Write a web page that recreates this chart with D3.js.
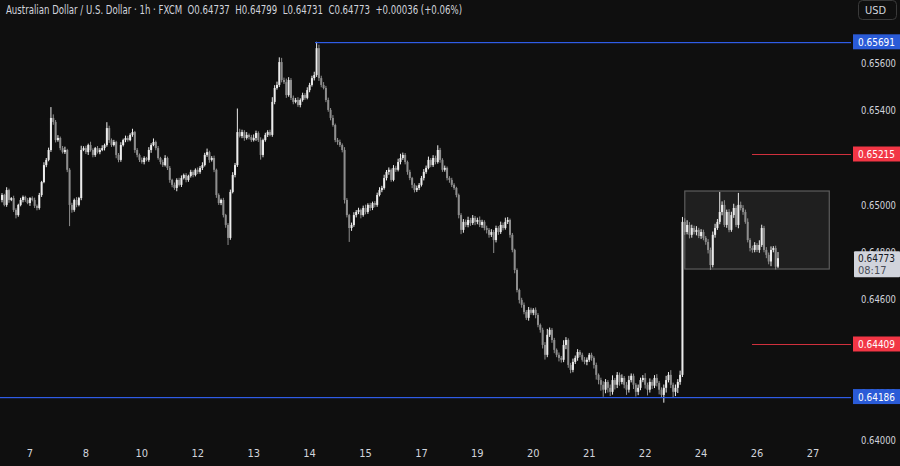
<!DOCTYPE html>
<html><head><meta charset="utf-8">
<script src="https://cdn.jsdelivr.net/npm/d3@7"></script>
<style>html,body{margin:0;padding:0;background:#0f0f0f;}svg{display:block;}</style>
</head><body>
<script>
// ---- DATA ----
const title = "Australian Dollar / U.S. Dollar · 1h · FXCM  O0.64737  H0.64799  L0.64731  C0.64773  +0.00036 (+0.06%)";
const firstOpen = 0.65020;
const closes = [
0.65041,0.64999,0.65062,0.65020,0.65028,0.64978,0.64956,0.64999,0.65020,0.65033,
0.65020,0.65007,0.65028,0.65020,0.64995,0.64986,0.65041,0.65096,0.65168,0.65190,
0.65232,0.65368,0.65351,0.65274,0.65283,0.65240,0.65223,0.65232,0.65148,0.64999,
0.64978,0.65020,0.64999,0.65028,0.65232,0.65240,0.65223,0.65253,0.65232,0.65211,
0.65240,0.65223,0.65232,0.65240,0.65253,0.65325,0.65274,0.65253,0.65266,0.65211,
0.65190,0.65253,0.65274,0.65283,0.65274,0.65296,0.65308,0.65232,0.65211,0.65190,
0.65181,0.65198,0.65190,0.65232,0.65253,0.65266,0.65240,0.65198,0.65181,0.65168,
0.65198,0.65156,0.65105,0.65084,0.65071,0.65105,0.65084,0.65113,0.65126,0.65105,
0.65122,0.65139,0.65126,0.65148,0.65139,0.65156,
0.65168,0.65211,0.65223,0.65190,
0.65198,0.65148,0.65041,0.65007,0.65020,0.64956,0.64914,0.64859,0.65054,0.65126,
0.65168,0.65308,0.65291,0.65308,0.65283,0.65296,0.65287,0.65274,0.65283,0.65304,
0.65274,0.65211,0.65274,0.65296,0.65308,0.65296,0.65436,0.65495,0.65508,0.65605,
0.65529,0.65520,0.65465,0.65529,0.65453,0.65436,0.65444,0.65423,0.65444,0.65465,
0.65453,0.65486,0.65508,0.65537,0.65550,0.65664,0.65537,0.65508,0.65495,0.65444,
0.65402,0.65368,0.65338,0.65274,0.65266,0.65253,0.65232,0.65020,0.64956,0.64901,
0.64914,0.64956,0.64969,0.64978,0.64956,0.64986,0.64969,0.64999,0.64986,0.65007,
0.64999,0.65041,0.65062,0.65071,0.65113,0.65139,0.65148,0.65105,0.65156,0.65148,
0.65181,0.65198,
0.65211,0.65181,0.65139,0.65113,0.65084,0.65062,0.65071,0.65084,
0.65113,0.65139,0.65156,0.65190,0.65168,0.65198,0.65181,0.65232,0.65190,0.65148,
0.65156,0.65113,0.65105,0.65084,0.65071,0.65041,0.64956,0.64893,0.64927,0.64914,
0.64935,0.64922,0.64944,0.64927,0.64935,0.64914,0.64927,0.64901,0.64893,0.64872,
0.64884,0.64850,0.64901,0.64884,0.64914,0.64901,0.64927,0.64935,0.64872,0.64808,
0.64723,0.64638,0.64596,0.64575,0.64545,0.64520,0.64554,0.64541,0.64554,0.64532,
0.64490,0.64469,0.64405,0.64363,0.64448,0.64469,0.64426,0.64384,0.64363,0.64350,
0.64342,0.64405,0.64426,0.64320,0.64299,0.64333,0.64350,0.64375,0.64363,0.64342,
0.64333,0.64342,0.64363,0.64350,0.64320,0.64278,0.64256,
0.64236,0.64215,0.64248,0.64223,0.64206,0.64256,0.64236,0.64278,0.64248,0.64265,
0.64236,0.64215,0.64256,0.64274,0.64236,0.64206,0.64223,0.64256,0.64265,0.64236,
0.64215,0.64248,0.64232,0.64265,0.64244,0.64215,0.64193,0.64223,0.64256,0.64278,
0.64236,0.64206,0.64223,0.64248,0.64278,
0.64927,0.64884,0.64914,0.64872,0.64901,0.64884,0.64893,0.64867,0.64884,0.64859,
0.64842,0.64808,0.64744,0.64872,0.64901,0.64927,0.64969,0.64999,0.64914,0.64969,
0.64893,0.64956,0.64986,0.64914,0.64999,0.64986,0.64969,0.64927,0.64850,0.64816,
0.64808,0.64829,0.64808,0.64829,0.64901,0.64808,0.64787,0.64759,0.64808,0.64816,0.64737,0.64773
];
// upper / lower wick lengths in points (0.00001)
const upWick = [
8,5,12,6,4,10,7,5,9,6, 5,8,4,7,10,6,9,5,12,8, 10,46,15,8,12,6,9,14,5,7, 9,6,12,5,18,8,10,6,14,7,
5,9,8,12,6,25,10,7,9,5, 8,12,6,10,9,7,14,5,8,6, 10,7,5,12,8,15,6,9,5,10, 12,6,8,5,10,7,9,11,6,8,
5,9,7,6,10,8, 12,9,15,6,
8,10,5,7,6,9,5,8,10,12, 9,100,14,10,8,12,6,9,15,10, 7,12,6,9,8,10,20,12,14,20, 18,10,15,12,8,10,9,12,7,10,
8,12,9,10,14,27,15,10,12,9, 10,8,12,6,9,10,7,12,8,5, 10,12,8,9,6,10,14,7,9,6, 8,10,12,9,14,8,10,6,12,9,
14,18,
10,8,6,9,5,7,10,8, 9,12,10,14,8,12,10,20,9,7, 10,6,8,9,7,5,6,8,12,10, 14,9,12,8,10,15,9,7,10,8,
12,9,10,8,14,10,18,12,6,8, 5,7,6,9,10,8,12,9,7,10, 8,6,9,12,25,10,8,9,6,10, 8,20,12,7,9,14,10,12,8,9,
12,10,8,9,7,10,6,
10,15,12,8,14,20,9,12,10,15, 8,12,18,10,9,7,14,10,12,20, 9,15,10,12,16,8,10,14,18,12, 20,9,14,12,18,
21,15,20,12,14,10,16,9,12,10, 8,12,10,14,18,12,85,15,20,10, 12,14,18,10,51,14,12,10,15,8, 10,12,8,20,14,9,12,10,15,8,10,26
];
const downWick = [
10,6,8,12,5,9,14,7,6,10, 8,5,12,6,9,10,7,8,5,9, 6,8,12,10,7,9,6,8,10,90, 12,8,10,6,9,5,8,12,7,10,
8,6,9,5,10,7,12,8,6,14, 10,8,6,9,7,5,8,12,10,9, 7,10,6,8,12,5,9,7,10,8, 6,9,12,10,8,14,7,9,6,10,
8,7,10,6,9,8, 9,6,8,12,
7,10,12,8,9,10,12,30,8,6, 10,8,6,9,12,7,10,8,6,12, 8,20,10,7,9,6,8,10,7,9, 10,8,12,7,9,10,6,8,10,7,
8,6,9,7,10,8,12,10,6,9, 8,10,7,9,12,8,10,15,10,59, 12,8,10,9,14,7,10,8,12,9, 10,8,6,9,7,10,12,8,6,9,
7,10,
8,10,12,9,14,10,8,9, 7,10,8,6,9,8,10,7,12,9, 8,10,12,9,8,10,14,18,12,9, 10,12,8,14,10,9,12,10,15,12,
9,55,10,12,8,10,7,9,12,10, 14,10,15,12,10,9,12,8,10,14, 10,12,15,20,10,9,12,14,10,15, 12,10,18,12,14,10,9,12,10,8,
10,14,9,12,15,20,18,
25,30,15,20,18,12,20,14,16,10, 15,22,12,10,18,20,14,10,9,16, 24,12,14,10,15,20,12,33,20,10, 14,25,18,22,12,
9,12,10,15,12,10,14,9,12,10, 12,15,21,10,12,8,10,14,9,12, 10,8,12,9,14,10,12,8,10,14, 12,10,9,12,8,10,14,12,20,10,12,6
];
const dayTickIdx = [12,36,60,84,108,132,156,180,204,228,252,276,300,324,348];
const dayTickLabels = ["7","8","10","12","13","14","15","17","19","20","21","22","24","26","27"];
const priceTicks = [0.64000,0.64200,0.64600,0.64800,0.65000,0.65400,0.65600];
const blueLevels = [{price:0.65691, from:135},{price:0.64186, from:0}];
const redLevels = [{price:0.65215, from:322},{price:0.64409, from:322}];
const rangeBox = {from:293, to:355, top:0.65058, bottom:0.64727};
const lastPrice = 0.64773, countdown = "08:17";

// ---- CHART ----
const W=900,H=466;
const svg=d3.select("body").append("svg").attr("width",W).attr("height",H);
svg.append("rect").attr("width",W).attr("height",H).attr("fill","#0f0f0f");
const font="'DejaVu Sans Condensed','Liberation Sans Narrow',Roboto,sans-serif";
const x=d3.scaleLinear().domain([0,closes.length-1]).range([2,778]);
const y=d3.scaleLinear().domain([0.64000,0.65691]).range([440.4,41.8]);
const plotRight=851;

// range box
svg.append("rect").attr("x",x(rangeBox.from)).attr("y",y(rangeBox.top))
  .attr("width",x(rangeBox.to)-x(rangeBox.from)).attr("height",y(rangeBox.bottom)-y(rangeBox.top))
  .attr("fill","rgba(255,255,255,0.07)").attr("stroke","#5c5c5c").attr("stroke-width",1.2);

// candles
const bars=closes.map((c,i)=>{
  const o=i===0?firstOpen:closes[i-1];
  const hi=Math.max(o,c)+upWick[i]/1e5, lo=Math.min(o,c)-downWick[i]/1e5;
  return {i,o,c,hi,lo};
});
const g=svg.append("g");
bars.forEach(b=>{
  const col=b.c>=b.o?"#ececec":"#8e8e8e";
  g.append("line").attr("x1",x(b.i)).attr("x2",x(b.i)).attr("y1",y(b.hi)).attr("y2",y(b.lo))
    .attr("stroke",col).attr("stroke-width",1);
  const top=y(Math.max(b.o,b.c)), bot=y(Math.min(b.o,b.c));
  g.append("rect").attr("x",x(b.i)-1).attr("width",2).attr("y",top).attr("height",Math.max(1,bot-top)).attr("fill",col);
});

// level lines (drawn above candles, as in the reference), as 1px filled strips
blueLevels.forEach(l=>{
  const x0=Math.max(0,Math.round(x(l.from))-2);
  svg.append("rect").attr("x",x0).attr("width",plotRight-x0)
    .attr("y",Math.round(y(l.price))).attr("height",1.2).attr("fill","#2f5ce6");
});
redLevels.forEach(l=>{
  const x0=Math.round(x(l.from));
  svg.append("rect").attr("x",x0).attr("width",plotRight-x0)
    .attr("y",Math.round(y(l.price))).attr("height",1).attr("fill","#d0303d");
});

// header
svg.append("text").attr("x",6).attr("y",14).attr("fill","#d1d4dc").attr("font-family",font)
  .style("white-space","pre").attr("font-size",12).attr("textLength",456).attr("lengthAdjust","spacingAndGlyphs").text(title);

// USD button
svg.append("rect").attr("x",858.5).attr("y",0.5).attr("width",38).attr("height",19).attr("rx",4)
  .attr("fill","none").attr("stroke","#3a3a3a");
svg.append("text").attr("x",865).attr("y",14).attr("fill","#d1d4dc").attr("font-family",font).attr("font-size",11).text("USD");

// y axis ticks
priceTicks.forEach(p=>svg.append("text").attr("x",861).attr("y",y(p)+4).attr("fill","#d1d4dc")
  .attr("font-family",font).attr("font-size",11).attr("textLength",35).attr("lengthAdjust","spacingAndGlyphs").text(p.toFixed(5)));

// x axis
dayTickIdx.forEach((d,k)=>svg.append("text").attr("x",x(d)).attr("y",457).attr("text-anchor","middle")
  .attr("fill","#d1d4dc").attr("font-family",font).attr("font-size",11).text(dayTickLabels[k]));

// price labels
function priceLabel(p,bg,fg){
  const cy=y(p);
  svg.append("rect").attr("x",853).attr("y",cy-7.5).attr("width",47).attr("height",15).attr("fill",bg);
  svg.append("text").attr("x",858).attr("y",cy+4).attr("fill",fg).attr("font-family",font).attr("font-size",11)
    .attr("textLength",37).attr("lengthAdjust","spacingAndGlyphs").text(p.toFixed(5));
}
blueLevels.forEach(l=>priceLabel(l.price,"#2a5bd7","#ffffff"));
redLevels.forEach(l=>priceLabel(l.price,"#f23645","#ffffff"));
// last price label
const ly=y(lastPrice);
svg.append("rect").attr("x",854).attr("y",ly-7).attr("width",46).attr("height",26).attr("rx",1).attr("fill","#d1d4dc");
svg.append("text").attr("x",858).attr("y",ly+4).attr("fill","#131722").attr("font-family",font).attr("font-size",11)
  .attr("textLength",37).attr("lengthAdjust","spacingAndGlyphs").text(lastPrice.toFixed(5));
svg.append("text").attr("x",858).attr("y",ly+16).attr("fill","#4a4e59").attr("font-family",font).attr("font-size",11).text(countdown);
</script>
</body></html>
